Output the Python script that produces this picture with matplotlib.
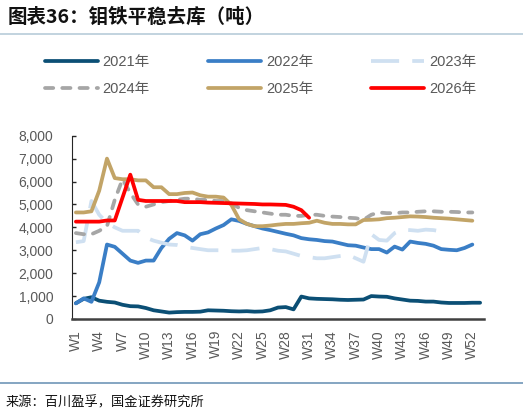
import matplotlib
matplotlib.use('Agg')
import matplotlib.pyplot as plt
from matplotlib.lines import Line2D
import numpy as np

weeks = ['W' + str(i) for i in range(1, 54)]

y2021 = [690, 880, 950, 800, 750, 720, 620, 560, 550, 480,
         380, 330, 280, 300, 310, 310, 320, 380, 370, 360,
         340, 330, 340, 320, 330, 380, 500, 520, 420, 980,
         900, 880, 870, 860, 840, 830, 840, 850, 1000, 980,
         970, 900, 850, 800, 790, 760, 760, 720, 700, 700,
         700, 710, 710]
y2022 = [680, 900, 750, 1600, 3250, 3150, 2850, 2550, 2450, 2550,
         2550, 3100, 3500, 3750, 3650, 3420, 3700, 3780, 3950, 4100,
         4350, 4280, 4150, 4050, 3950, 3880, 3800, 3720, 3650, 3530,
         3480, 3450, 3400, 3380, 3300, 3220, 3200, 3120, 3050, 3050,
         2900, 3160, 3030, 3380, 3320, 3280, 3200, 3050, 3020, 3000,
         3100, 3250]
y2023 = [3350, 3400, 5150, 4550, 4200, 4000, 3850, 3850, 3850, 3550,
         3420, 3330, 3250, 3230, 3150, 3100, 3050, 3000, 3000, 3000,
         2980, 2980, 3000, 3050, 3100, 3050, 2980, 2950, 2850, 2750,
         2700, 2650, 2650, 2700, 2750, 2800, 2650, 2500, 3700, 3450,
         3420, 3750, 3900, 3880, 3850, 3900, 3880, 3820, 3800]
y2024 = [3750, 3700, 3700, 3850, 4050, 5200, 6100, 5500, 5000, 4900,
         5000, 5100, 5150, 5200, 5250, 5250, 5200, 5200, 5150, 5150,
         5050, 4850, 4750, 4700, 4650, 4600, 4550, 4550, 4500, 4500,
         4550, 4550, 4500, 4470, 4450, 4420, 4400, 4330, 4550, 4650,
         4620, 4620, 4650, 4650, 4680, 4700, 4700, 4680, 4680, 4670,
         4650, 4650]
y2025 = [4650, 4650, 4700, 5600, 7000, 6150, 6100, 6100, 6050, 6050,
         5750, 5750, 5450, 5450, 5500, 5520, 5400, 5340, 5340, 5300,
         4980, 4350, 4150, 4050, 4050, 4080, 4120, 4150, 4150, 4180,
         4200, 4290, 4200, 4150, 4150, 4130, 4130, 4320, 4330, 4350,
         4400, 4420, 4450, 4480, 4470, 4450, 4420, 4400, 4380, 4350,
         4320, 4290]
y2026 = [4250, 4250, 4250, 4250, 4300, 4300, 5300, 6300, 5200, 5150,
         5150, 5150, 5150, 5150, 5100, 5100, 5100, 5080, 5070, 5060,
         5050, 5040, 5030, 5020, 5000, 5000, 4990, 4980, 4900, 4750,
         4420]

series = [
    ('2021年', y2021, dict(color='#0b4f75')),
    ('2022年', y2022, dict(color='#3a7ec6')),
    ('2023年', y2023, dict(color='#cfe0f1', dashes=(7.5, 3.5))),
    ('2024年', y2024, dict(color='#a6a6a6', dashes=(2.2, 2.4), dash_capstyle='round')),
    ('2025年', y2025, dict(color='#c2a467')),
    ('2026年', y2026, dict(color='#ff0000')),
]

cjk = ['Liberation Sans', 'Noto Sans CJK SC']
grey = '#595959'

fig = plt.figure(figsize=(5.23, 4.2), dpi=100)
ax = fig.add_axes([72 / 523, 1 - 319 / 420, 412 / 523, (319 - 135.7) / 420])

handles = {}
for name, vals, style in series:
    ln, = ax.plot(np.arange(len(vals)), vals, lw=2.7, solid_capstyle='round',
                  solid_joinstyle='round', label=name, **style)
    handles[name] = ln

ax.set_xlim(-0.5, 52.5)
ax.set_ylim(0, 8000)
ax.set_yticks(range(0, 8001, 1000))
ax.set_yticklabels(['{:,}'.format(v) for v in range(0, 8001, 1000)],
                   family='Liberation Sans', fontsize=10, color=grey)
ax.set_xticks(range(0, 53, 3))
ax.set_xticklabels(weeks[::3], rotation=90, family='Liberation Sans',
                   fontsize=10, color=grey)
ax.tick_params(axis='y', direction='in', length=3, width=1, pad=13.5, color='#262626')
ax.tick_params(axis='x', length=0, pad=8)
for s in ['top', 'right']:
    ax.spines[s].set_visible(False)
ax.spines['left'].set_color('#262626')
ax.spines['bottom'].set_color('#404040')
ax.spines['bottom'].set_linewidth(1.8)

order = ['2021年', '2024年', '2022年', '2025年', '2023年', '2026年']
leg = fig.legend([handles[k] for k in order], order, loc='upper left',
                 bbox_to_anchor=(45 / 523, 1 - 55 / 420), ncol=3, frameon=False,
                 prop={'family': cjk, 'size': 10.5}, handlelength=3.6,
                 handletextpad=0.35, columnspacing=4.0, labelspacing=0.92,
                 borderpad=0, borderaxespad=0)
for t in leg.get_texts():
    t.set_color(grey)

fig.text(8 / 523, 1 - 17 / 420, '图表36：钼铁平稳去库（吨）', family=['Noto Sans CJK SC'],
         fontsize=14, weight='bold', va='center', ha='left', color='#111111')
fig.add_artist(Line2D([0, 1], [1 - 34 / 420] * 2, color='#b7ccd9', lw=1.2))
fig.add_artist(Line2D([0, 1], [1 - 383 / 420] * 2, color='#6f96b8', lw=1.2))
fig.text(6 / 523, 1 - 403 / 420, '来源：百川盈孚，国金证券研究所', family=['Noto Sans CJK SC'],
         fontsize=9.5, va='center', ha='left', color='#111111')

fig.savefig('out.png', dpi=100)
